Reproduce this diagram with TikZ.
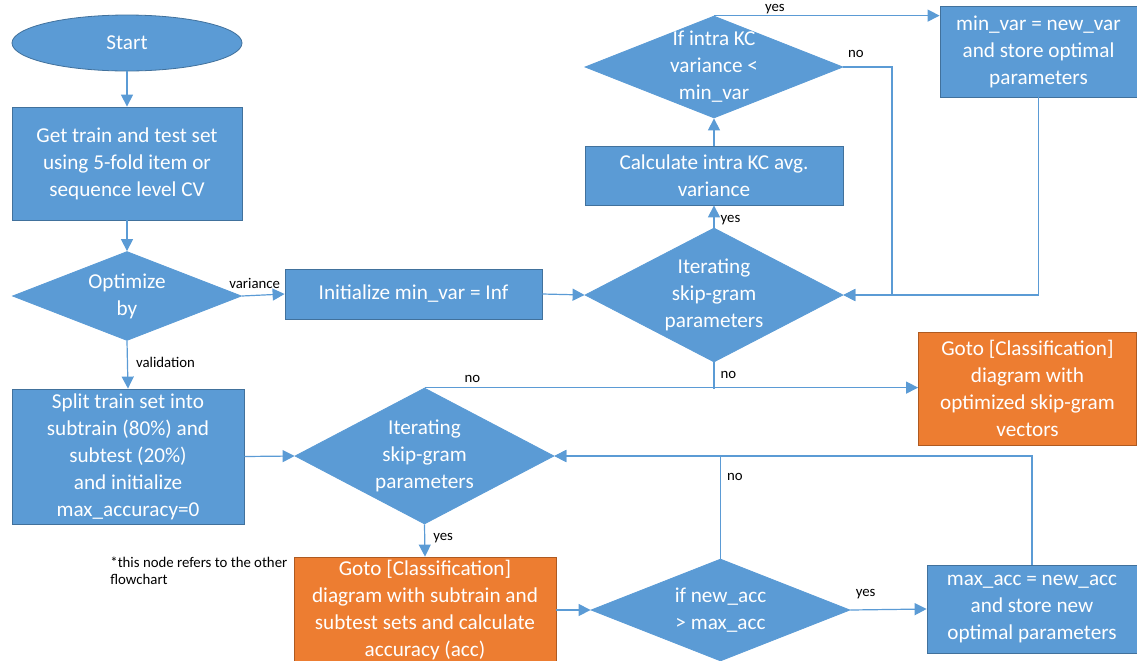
\documentclass[tikz,border=0pt]{standalone}
\usepackage{fontspec}
\setmainfont{Carlito}
\usetikzlibrary{shapes.geometric,arrows.meta}

\definecolor{bluefill}{HTML}{5B9BD5}
\definecolor{blueedge}{HTML}{41719C}
\definecolor{orangefill}{HTML}{ED7D31}
\definecolor{orangeedge}{HTML}{AE5A21}

\newcommand{\boxfont}{\fontsize{10.6}{13.5}\selectfont}
\newcommand{\lblfont}{\fontsize{7.4}{8.5}\selectfont}

\tikzstyle{terminal} = [ellipse, minimum width=115pt, minimum height=28pt, inner sep=0pt, draw=blueedge, fill=bluefill, text=white, font=\boxfont]
\tikzstyle{process} = [rectangle, inner sep=0pt, align=center, draw=blueedge, fill=bluefill, text=white, font=\boxfont]
\tikzstyle{decision} = [diamond, inner sep=-15pt, align=center, draw=bluefill, fill=bluefill, text=white, font=\boxfont]
\tikzstyle{gotobox} = [process, draw=orangeedge, fill=orangefill]
\tikzstyle{arrow} = [draw=bluefill, line width=0.6pt, -{Triangle[length=6pt, width=6pt]}]
\tikzstyle{line} = [draw=bluefill, line width=0.6pt]
\tikzstyle{lbl} = [font=\lblfont, text=black, inner sep=0pt]

\begin{document}
\begin{tikzpicture}[x=0.5pt, y=-0.5pt]
\useasboundingbox (0,0) rectangle (1137,660);

\node (start) [terminal] at (127,43) {Start};

\node (getset) [process, minimum width=115pt, minimum height=56.5pt] at (127,163.5) {Get train and test set\\using 5-fold item or\\sequence level CV};

\node (optby) [decision, minimum width=114.5pt, minimum height=44.5pt] at (127,296) {Optimize\\by};

\node (initvar) [process, minimum width=128.5pt, minimum height=25pt] at (413.5,294) {Initialize min\_var = Inf};

\node (iterA) [decision, minimum width=129pt, minimum height=67pt] at (714,295) {Iterating\\skip-gram\\parameters};

\node (calcvar) [process, minimum width=129pt, minimum height=29.5pt] at (714,175.5) {Calculate intra KC avg.\\variance};

\node (ifvar) [decision, minimum width=129pt, minimum height=51pt] at (714,67) {If intra KC\\variance <\\min\_var};

\node (minvar) [process, minimum width=98.5pt, minimum height=45.5pt] at (1038.5,51.5) {min\_var = new\_var\\and store optimal\\parameters};

\node (gotoA) [gotobox, minimum width=109pt, minimum height=56.5pt] at (1027.5,388.5) {Goto [Classification]\\diagram with\\optimized skip-gram\\vectors};

\node (split) [process, minimum width=116pt, minimum height=67.5pt] at (128,456.5) {Split train set into\\subtrain (80\%) and\\subtest (20\%)\\and initialize\\max\_accuracy=0};

\node (iterB) [decision, minimum width=129.5pt, minimum height=68pt] at (424.5,456) {Iterating\\skip-gram\\parameters};

\node (gotoB) [gotobox, minimum width=131pt, minimum height=53pt] at (425,610) {Goto [Classification]\\diagram with subtrain and\\subtest sets and calculate\\accuracy (acc)};

\node (ifacc) [decision, minimum width=129.5pt, minimum height=51pt] at (720.5,610) {if new\_acc\\> max\_acc};

\node (maxacc) [process, minimum width=105pt, minimum height=44pt] at (1032,609) {max\_acc = new\_acc\\and store new\\optimal parameters};

\node (note) [lbl, anchor=north west, align=left] at (110,557) {*this node refers to the other\\flowchart};

\coordinate (joinA) at (892,180);

\draw [arrow] (start) -- (getset);
\draw [arrow] (getset) -- (optby);
\draw [arrow] (optby.east) -- (initvar.west) node [lbl, above, pos=0.3, yshift=3pt] {variance};
\draw [arrow] (optby.south) -- (split.north) node [lbl, right, midway, xshift=4pt, yshift=1pt] {validation};
\draw [arrow] (initvar.east) -- (iterA.west);
\draw [arrow] (iterA.north) -- (calcvar.south) node [lbl, right, midway, xshift=3pt, yshift=-2pt] {yes};
\draw [arrow] (calcvar.north) -- (ifvar.south);
\draw [arrow] (ifvar.north) -- (ifvar.north -| minvar.west) node [lbl, above, pos=0.27, yshift=0.5pt] {yes};
\draw [arrow] (ifvar.east) -| (joinA) |- (iterA.east);
\node [lbl] at (856,54) {no};
\draw [arrow] (minvar.south) |- (iterA.east);
\draw [line] (iterA.south) -- (iterA.south |- gotoA.west) node [lbl, right, midway, xshift=3pt] {no};
\draw [arrow] (iterB.north) -- (iterB.north -| gotoA.west) node [lbl, above, pos=0.097, yshift=2pt] {no};
\draw [arrow] (split.east) -- (iterB.west);
\draw [arrow] (iterB.south) -- (gotoB.north) node [lbl, right, midway, xshift=4pt, yshift=1pt] {yes};
\draw [arrow] (gotoB.east) -- (ifacc.west);
\draw [arrow] (ifacc.east) -- (maxacc.west) node [lbl, above, pos=0.2, yshift=5pt] {yes};
\draw [arrow] (ifacc.north) |- (iterB.east) node [lbl, right, pos=0.4, xshift=3pt] {no};
\draw [arrow] (maxacc.north) |- (iterB.east);
\end{tikzpicture}
\end{document}
